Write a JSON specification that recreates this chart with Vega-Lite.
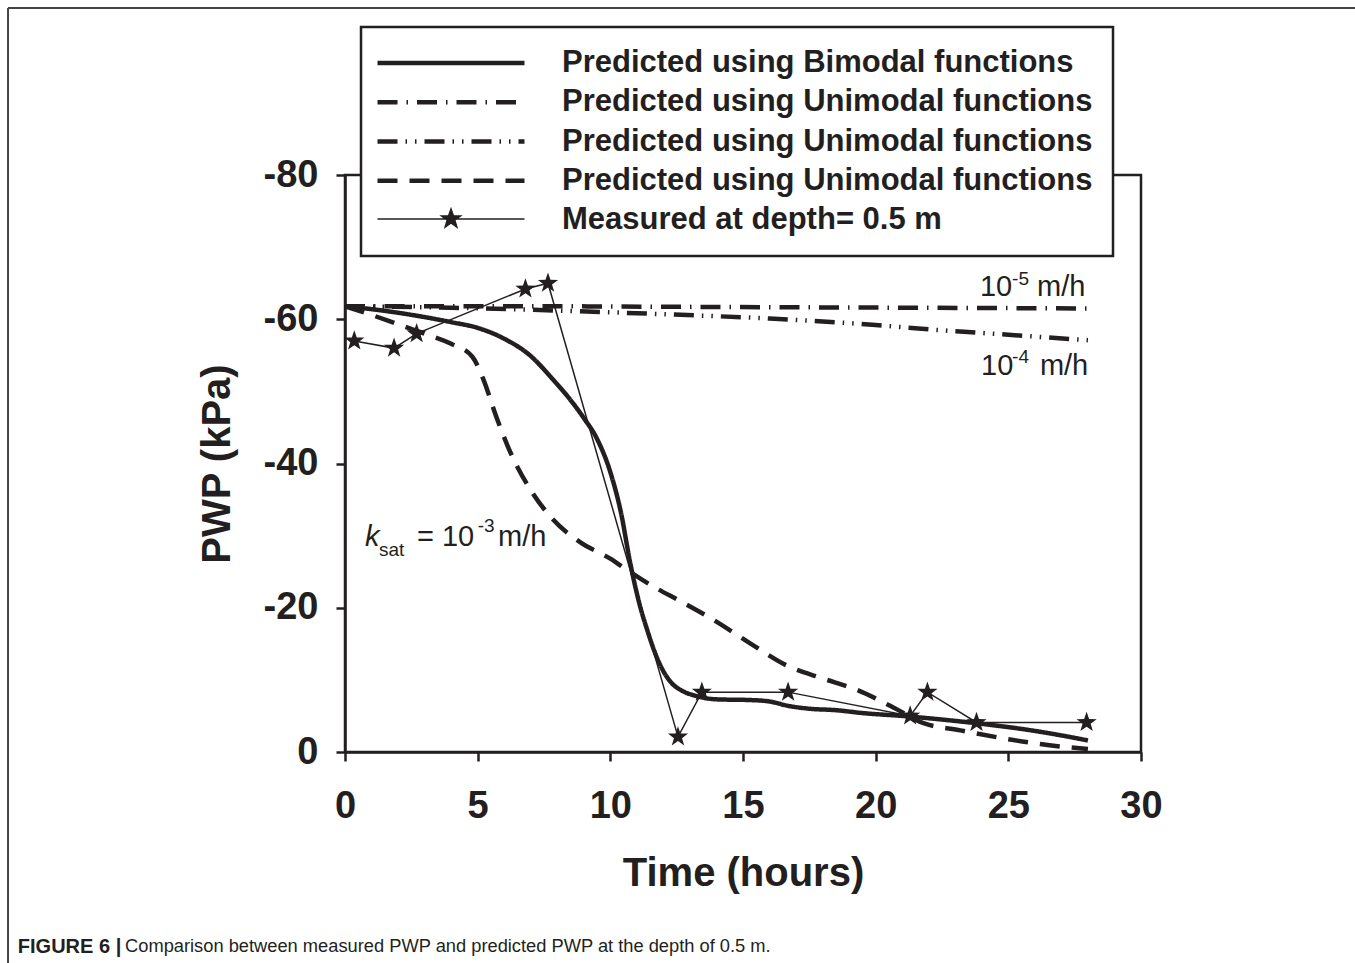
{
  "$schema": "https://vega.github.io/schema/vega-lite/v6.json",
  "width": 796,
  "height": 577,
  "autosize": {"type": "none"},
  "padding": {"left": 345, "top": 175, "right": 214, "bottom": 211},
  "background": "white",
  "config": {
    "font": "Liberation Sans",
    "view": {"stroke": "#231f20", "strokeWidth": 2.5},
    "axis": {
      "grid": false,
      "domainColor": "#231f20", "domainWidth": 2.5,
      "tickColor": "#231f20", "tickWidth": 2.5, "tickSize": 9,
      "labelFont": "Liberation Sans", "labelFontSize": 38, "labelFontWeight": "bold", "labelColor": "#231f20",
      "titleFont": "Liberation Sans", "titleFontSize": 40, "titleFontWeight": "bold", "titleColor": "#231f20",
      "labelFlush": false, "labelOverlap": false, "labelBound": false
    },
    "axisX": {"labelPadding": 26, "titlePadding": 28},
    "axisY": {"labelPadding": 18, "titlePadding": 26},
    "legend": {"strokeWidth": 2.5}
  },
  "datasets": {
    "lines": [
      {"series": "bi", "t": 0, "v": -61.8}, {"series": "bi", "t": 1, "v": -61.4}, {"series": "bi", "t": 2, "v": -60.9},
      {"series": "bi", "t": 3, "v": -60.3}, {"series": "bi", "t": 4, "v": -59.6}, {"series": "bi", "t": 5, "v": -58.8},
      {"series": "bi", "t": 6, "v": -57.3}, {"series": "bi", "t": 7, "v": -54.9}, {"series": "bi", "t": 7.8, "v": -51.8},
      {"series": "bi", "t": 8.5, "v": -48.8}, {"series": "bi", "t": 9.0, "v": -46.3}, {"series": "bi", "t": 9.5, "v": -43.4},
      {"series": "bi", "t": 10.0, "v": -38.8}, {"series": "bi", "t": 10.4, "v": -33.2}, {"series": "bi", "t": 10.75, "v": -26.2},
      {"series": "bi", "t": 11.1, "v": -20.5}, {"series": "bi", "t": 11.4, "v": -16.8}, {"series": "bi", "t": 11.7, "v": -13.6},
      {"series": "bi", "t": 12.0, "v": -11.2}, {"series": "bi", "t": 12.3, "v": -9.6}, {"series": "bi", "t": 12.7, "v": -8.5},
      {"series": "bi", "t": 13.2, "v": -7.8}, {"series": "bi", "t": 14, "v": -7.3}, {"series": "bi", "t": 15.3, "v": -7.2},
      {"series": "bi", "t": 16, "v": -7.0}, {"series": "bi", "t": 16.7, "v": -6.4}, {"series": "bi", "t": 17.5, "v": -6.0},
      {"series": "bi", "t": 18.5, "v": -5.8}, {"series": "bi", "t": 19.5, "v": -5.4}, {"series": "bi", "t": 21, "v": -5.0},
      {"series": "bi", "t": 22.5, "v": -4.5}, {"series": "bi", "t": 24, "v": -3.9}, {"series": "bi", "t": 25.5, "v": -3.2},
      {"series": "bi", "t": 27, "v": -2.3}, {"series": "bi", "t": 28, "v": -1.6},
      {"series": "u5", "t": 0, "v": -61.8}, {"series": "u5", "t": 7, "v": -61.8}, {"series": "u5", "t": 14, "v": -61.7},
      {"series": "u5", "t": 21, "v": -61.6}, {"series": "u5", "t": 28, "v": -61.5},
      {"series": "u4", "t": 0, "v": -61.8}, {"series": "u4", "t": 4, "v": -61.6}, {"series": "u4", "t": 8, "v": -61.2},
      {"series": "u4", "t": 12, "v": -60.7}, {"series": "u4", "t": 16, "v": -60.1}, {"series": "u4", "t": 18, "v": -59.7},
      {"series": "u4", "t": 20, "v": -59.2}, {"series": "u4", "t": 22, "v": -58.6}, {"series": "u4", "t": 24, "v": -58.1},
      {"series": "u4", "t": 26, "v": -57.6}, {"series": "u4", "t": 28, "v": -57.1},
      {"series": "u3", "t": 0, "v": -61.8}, {"series": "u3", "t": 1, "v": -60.6}, {"series": "u3", "t": 2, "v": -59.3},
      {"series": "u3", "t": 3, "v": -58}, {"series": "u3", "t": 4, "v": -56.6}, {"series": "u3", "t": 4.8, "v": -54.8},
      {"series": "u3", "t": 5.2, "v": -51.8}, {"series": "u3", "t": 5.7, "v": -46.5}, {"series": "u3", "t": 6.3, "v": -41},
      {"series": "u3", "t": 7, "v": -36.3}, {"series": "u3", "t": 7.8, "v": -32.4}, {"series": "u3", "t": 8.9, "v": -29},
      {"series": "u3", "t": 10, "v": -26.8}, {"series": "u3", "t": 10.6, "v": -25.3}, {"series": "u3", "t": 11.5, "v": -23.2},
      {"series": "u3", "t": 12.7, "v": -20.8}, {"series": "u3", "t": 13.9, "v": -18.3}, {"series": "u3", "t": 15.3, "v": -15.0},
      {"series": "u3", "t": 16.7, "v": -11.9}, {"series": "u3", "t": 18, "v": -10.2}, {"series": "u3", "t": 19.3, "v": -8.6},
      {"series": "u3", "t": 20.6, "v": -6.3}, {"series": "u3", "t": 21.8, "v": -4.0}, {"series": "u3", "t": 23.2, "v": -3.0},
      {"series": "u3", "t": 24.8, "v": -1.9}, {"series": "u3", "t": 26.2, "v": -1.1}, {"series": "u3", "t": 28, "v": -0.4},
      {"series": "meas", "t": 0.35, "v": -57}, {"series": "meas", "t": 1.85, "v": -56}, {"series": "meas", "t": 2.7, "v": -58},
      {"series": "meas", "t": 6.8, "v": -64.2}, {"series": "meas", "t": 7.65, "v": -65}, {"series": "meas", "t": 12.55, "v": -2.1},
      {"series": "meas", "t": 13.45, "v": -8.3}, {"series": "meas", "t": 16.7, "v": -8.3}, {"series": "meas", "t": 21.3, "v": -5.0},
      {"series": "meas", "t": 21.95, "v": -8.3}, {"series": "meas", "t": 23.8, "v": -4.1}, {"series": "meas", "t": 27.95, "v": -4.1}
    ],
    "notes": [
      {"text": "10", "t": 23.93, "v": -64.5, "role": "base"},
      {"text": "m/h", "t": 26.08, "v": -64.5, "role": "base"},
      {"text": "10", "t": 23.97, "v": -53.5, "role": "base"},
      {"text": "m/h", "t": 26.19, "v": -53.5, "role": "base"},
      {"text": "= 10", "t": 2.71, "v": -29.8, "role": "base"},
      {"text": "m/h", "t": 5.77, "v": -29.8, "role": "base"},
      {"text": "-5", "t": 25.14, "v": -65.6, "role": "small"},
      {"text": "-4", "t": 25.14, "v": -54.8, "role": "small"},
      {"text": "-3", "t": 5.0, "v": -31.3, "role": "small"},
      {"text": "sat", "t": 1.28, "v": -28.0, "role": "small"},
      {"text": "k", "t": 0.75, "v": -29.8, "role": "italic"}
    ]
  },
  "layer": [
    {
      "data": {"name": "lines"},
      "transform": [{"filter": "datum.series != 'meas'"}],
      "mark": {"type": "line", "color": "#231f20", "interpolate": "monotone", "strokeWidth": 4.5},
      "encoding": {
        "x": {"field": "t", "type": "quantitative", "scale": {"domain": [0, 30], "nice": false, "zero": false},
              "axis": {"title": "Time (hours)", "values": [0, 5, 10, 15, 20, 25, 30]}},
        "y": {"field": "v", "type": "quantitative", "scale": {"domain": [-80, 0], "reverse": true, "nice": false, "zero": false},
              "axis": {"title": "PWP (kPa)", "values": [0, -20, -40, -60, -80], "labelExpr": "'' + datum.value"}},
        "strokeDash": {"field": "series", "type": "nominal",
          "scale": {"domain": ["bi", "u5", "u4", "u3", "meas"], "range": [[1, 0], [20, 9, 1.5, 9], [20, 8, 1.5, 8, 1.5, 8], [20, 12], [0, 1000]]},
          "legend": {"orient": "none", "legendX": 16, "legendY": -148, "title": null,
            "symbolType": "M-8,0H8", "symbolSize": 337.6, "symbolStrokeWidth": 4.5, "symbolOffset": 54,
            "symbolStrokeColor": "#231f20", "labelFont": "Liberation Sans", "labelFontSize": 31, "labelFontWeight": "bold", "labelColor": "#231f20",
            "labelOffset": 95.5, "rowPadding": 7.25, "padding": 20.5, "fillColor": "white", "strokeColor": "#231f20", "labelLimit": 0,
            "labelExpr": "datum.value == 'bi' ? 'Predicted using Bimodal functions' : datum.value == 'meas' ? 'Measured at depth= 0.5 m' : 'Predicted using Unimodal functions'"}}
      }
    },
    {
      "data": {"name": "lines"},
      "transform": [{"filter": "datum.series == 'meas'"}],
      "mark": {"type": "line", "color": "#231f20", "strokeWidth": 1.5},
      "encoding": {
        "x": {"field": "t", "type": "quantitative"},
        "y": {"field": "v", "type": "quantitative"}
      }
    },
    {
      "data": {"name": "lines"},
      "transform": [{"filter": "datum.series == 'meas'"}],
      "mark": {"type": "point", "filled": true, "opacity": 1, "size": 450,
        "shape": "M0,-1L0.235,-0.324L0.951,-0.309L0.38,0.124L0.588,0.809L0,0.4L-0.588,0.809L-0.38,0.124L-0.951,-0.309L-0.235,-0.324Z"},
      "encoding": {
        "x": {"field": "t", "type": "quantitative"},
        "y": {"field": "v", "type": "quantitative"},
        "fill": {"field": "series", "type": "nominal",
          "scale": {"domain": ["meas"], "range": ["#231f20"]},
          "legend": {"orient": "none", "legendX": 95, "legendY": 33, "title": null, "padding": 0, "symbolSize": 400,
            "symbolType": "M-7.35,0H7.35M0,-1L0.235,-0.324L0.951,-0.309L0.38,0.124L0.588,0.809L0,0.4L-0.588,0.809L-0.38,0.124L-0.951,-0.309L-0.235,-0.324Z",
            "symbolStrokeColor": "#231f20", "symbolStrokeWidth": 1.5, "labelExpr": "''", "labelFontSize": 1}}
      }
    },
    {
      "data": {"values": [{}]},
      "mark": {"type": "rule", "color": "#444444", "strokeWidth": 2},
      "encoding": {
        "x": {"datum": -12.7, "type": "quantitative"},
        "x2": {"datum": 38.1},
        "y": {"datum": -103.15, "type": "quantitative"}
      }
    },
    {
      "data": {"values": [{}]},
      "mark": {"type": "rule", "color": "#444444", "strokeWidth": 2},
      "encoding": {
        "x": {"datum": -12.7, "type": "quantitative"},
        "y": {"datum": -103.15, "type": "quantitative"},
        "y2": {"datum": 29.5}
      }
    },
    {
      "data": {"name": "notes"},
      "transform": [{"filter": "datum.role == 'base'"}],
      "mark": {"type": "text", "align": "left", "baseline": "middle", "fontSize": 29, "font": "Liberation Sans", "color": "#231f20"},
      "encoding": {
        "x": {"field": "t", "type": "quantitative"},
        "y": {"field": "v", "type": "quantitative"},
        "text": {"field": "text"}
      }
    },
    {
      "data": {"name": "notes"},
      "transform": [{"filter": "datum.role == 'small'"}],
      "mark": {"type": "text", "align": "left", "baseline": "middle", "fontSize": 19, "font": "Liberation Sans", "color": "#231f20"},
      "encoding": {
        "x": {"field": "t", "type": "quantitative"},
        "y": {"field": "v", "type": "quantitative"},
        "text": {"field": "text"}
      }
    },
    {
      "data": {"name": "notes"},
      "transform": [{"filter": "datum.role == 'italic'"}],
      "mark": {"type": "text", "align": "left", "baseline": "middle", "fontSize": 29, "fontStyle": "italic", "font": "Liberation Sans", "color": "#231f20"},
      "encoding": {
        "x": {"field": "t", "type": "quantitative"},
        "y": {"field": "v", "type": "quantitative"},
        "text": {"field": "text"}
      }
    },
    {
      "data": {"values": [{}]},
      "mark": {"type": "text", "align": "left", "baseline": "middle", "fontSize": 20, "fontWeight": "bold", "font": "Liberation Sans", "color": "#231f20"},
      "encoding": {
        "x": {"datum": -12.33, "type": "quantitative"},
        "y": {"datum": 27.0, "type": "quantitative"},
        "text": {"value": "FIGURE 6 |"}
      }
    },
    {
      "data": {"values": [{}]},
      "mark": {"type": "text", "align": "left", "baseline": "middle", "fontSize": 18.3, "font": "Liberation Sans", "color": "#231f20"},
      "encoding": {
        "x": {"datum": -8.29, "type": "quantitative"},
        "y": {"datum": 27.0, "type": "quantitative"},
        "text": {"value": "Comparison between measured PWP and predicted PWP at the depth of 0.5 m."}
      }
    }
  ]
}
